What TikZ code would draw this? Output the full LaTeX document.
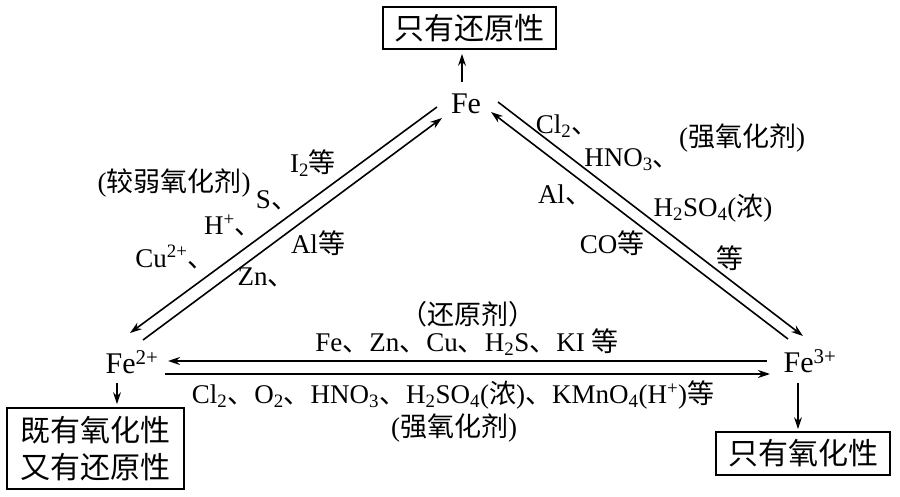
\documentclass[tikz,border=0pt]{standalone}
\usepackage{fontspec}
\setmainfont{Liberation Serif}
\newfontfamily\cjk{Noto Sans CJK SC}
\usetikzlibrary{arrows.meta}
\newcommand{\zh}[1]{{\cjk #1}}
\tikzset{
  lbl/.style={inner sep=0pt, font=\fontsize{27}{31}\selectfont},
  ion/.style={inner sep=0pt, font=\fontsize{30}{34}\selectfont},
  propbox/.style={draw, line width=1.8pt, inner sep=0pt, align=center,
    font=\fontsize{30}{37}\selectfont},
  conv/.style={line width=1.6pt, -{Stealth[length=12pt,width=8pt]}},
}

\begin{document}
\begin{tikzpicture}[x=1pt,y=-1pt]
\useasboundingbox (0,0) rectangle (900,497);

% Iron species
\node[ion] (fe) at (466,104) {Fe};
\node[ion] (fe2) at (132,362) {Fe\textsuperscript{2+}};
\node[ion] (fe3) at (810,361) {Fe\textsuperscript{3+}};

% Property boxes
\node[propbox, minimum width=173pt, minimum height=42pt] (redbox) at (469.5,28) {\zh{只有还原性}};
\node[propbox, minimum width=177pt, minimum height=81pt] (bothbox) at (95.5,448.5) {\zh{既有氧化性}\\\zh{又有还原性}};
\node[propbox, minimum width=174pt, minimum height=43pt] (oxbox) at (803,453.5) {\zh{只有氧化性}};

% Short arrows to the boxes
\draw[conv, shorten <=12pt, shorten >=4pt] ([xshift=-4pt]fe.north) -- ([xshift=-4pt]fe.north |- redbox.south);
\draw[conv, shorten <=9pt, shorten >=3pt] ([xshift=-15pt]fe2.south) -- ([xshift=-15pt]fe2.south |- bothbox.north);
\draw[conv, shorten <=10pt, shorten >=2pt] ([xshift=-12pt]fe3.south) -- ([xshift=-12pt]fe3.south |- oxbox.north);

% Ends of the long connectors
\coordinate (feA) at (437,107);
\coordinate (feB) at (442,118);
\coordinate (feC) at (498,102);
\coordinate (feD) at (491,112);
\coordinate (twoA) at (130,333);
\coordinate (twoB) at (143,340);
\coordinate (twoC) at (168,361);
\coordinate (twoD) at (165,374);
\coordinate (threeA) at (803,336);
\coordinate (threeB) at (788,339);
\coordinate (threeC) at (767,361);
\coordinate (threeD) at (770,374);

% Fe <-> Fe2+
\draw[conv] (feA) -- (twoA);
\draw[conv] (twoB) -- (feB);
% Fe <-> Fe3+
\draw[conv] (feC) -- (threeA);
\draw[conv] (threeB) -- (feD);
% Fe2+ <-> Fe3+
\draw[conv] (threeC) -- (twoC);
\draw[conv] (twoD) -- (threeD);

% Labels, left side
\node[lbl] (weakox) at (174,183) {(\zh{较弱氧化剂})};
\node[lbl] (iodine) at (313,163) {I\textsubscript{2}\zh{等}};
\node[lbl] (sulfur) at (277,200) {S\zh{、}};
\node[lbl] (proton) at (233,225) {H\textsuperscript{+}\zh{、}};
\node[lbl] (copper) at (175,257) {Cu\textsuperscript{2+}\zh{、}};
\node[lbl] (alum) at (318,243) {Al\zh{等}};
\node[lbl] (zinc) at (266,277) {Zn\zh{、}};

% Labels, right side
\node[lbl] (chlor) at (567,126) {Cl\textsubscript{2}\zh{、}};
\node[lbl] (nitric) at (632,160) {HNO\textsubscript{3}\zh{、}};
\node[lbl] (strongox) at (742,138) {(\zh{强氧化剂})};
\node[lbl] (sulfuric) at (713,208) {H\textsubscript{2}SO\textsubscript{4}(\zh{浓})};
\node[lbl] (etc) at (730,258) {\zh{等}};
\node[lbl] (alumB) at (565,195) {Al\zh{、}};
\node[lbl] (carbon) at (612,243) {CO\zh{等}};

% Labels, bottom side
\node[lbl] (reductant) at (468,314) {\zh{（还原剂）}};
\node[lbl] (reducers) at (467,342) {Fe\zh{、}Zn\zh{、}Cu\zh{、}H\textsubscript{2}S\zh{、}KI \zh{等}};
\node[lbl] (oxidizers) at (453,395) {Cl\textsubscript{2}\zh{、}O\textsubscript{2}\zh{、}HNO\textsubscript{3}\zh{、}H\textsubscript{2}SO\textsubscript{4}(\zh{浓})\zh{、}KMnO\textsubscript{4}(H\textsuperscript{+})\zh{等}};
\node[lbl] (strongoxB) at (454,428) {(\zh{强氧化剂})};
\end{tikzpicture}
\end{document}
